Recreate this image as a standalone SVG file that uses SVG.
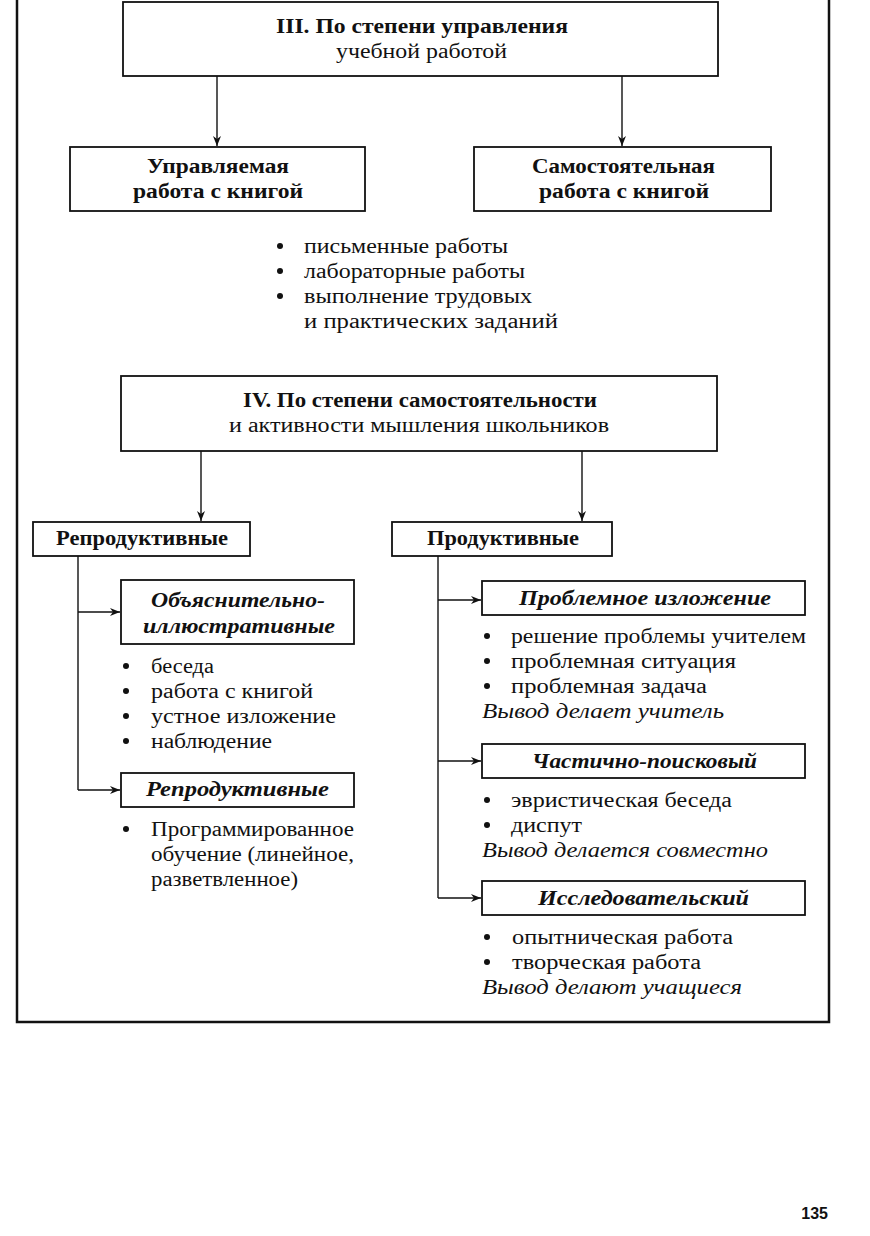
<svg xmlns="http://www.w3.org/2000/svg" width="870" height="1236" viewBox="0 0 870 1236">
<defs>
<marker id="ah" markerWidth="10" markerHeight="8" refX="10" refY="4" orient="auto" markerUnits="userSpaceOnUse">
<path d="M0,0 L10,4 L0,8 L3,4 Z" fill="#111"/>
</marker>
<style>
.box{fill:#fff;stroke:#111;stroke-width:1.8}
.t{font-family:"Liberation Serif","Times New Roman",serif;font-size:20px;fill:#111}
.b{font-weight:bold}
.i{font-style:italic;font-weight:bold}
.it{font-style:italic}
.d{fill:#111}
.ln{stroke:#111;stroke-width:1.4;fill:none}
</style>
</defs>
<rect width="870" height="1236" fill="#fff"/>
<g id="frame">
<path d="M17,0 V1022 H829 V0" fill="none" stroke="#111" stroke-width="2.5"/>
</g>
<g id="connectors">
<line class="ln" x1="217" y1="76" x2="217" y2="146" marker-end="url(#ah)"/>
<line class="ln" x1="622" y1="76" x2="622" y2="146" marker-end="url(#ah)"/>
<line class="ln" x1="201" y1="451" x2="201" y2="521" marker-end="url(#ah)"/>
<line class="ln" x1="582" y1="451" x2="582" y2="521" marker-end="url(#ah)"/>
<path class="ln" d="M78,556 V790"/>
<line class="ln" x1="78" y1="612" x2="120" y2="612" marker-end="url(#ah)"/>
<line class="ln" x1="78" y1="790" x2="120" y2="790" marker-end="url(#ah)"/>
<path class="ln" d="M438,556 V898"/>
<line class="ln" x1="438" y1="600" x2="481" y2="600" marker-end="url(#ah)"/>
<line class="ln" x1="438" y1="761" x2="481" y2="761" marker-end="url(#ah)"/>
<line class="ln" x1="438" y1="898" x2="481" y2="898" marker-end="url(#ah)"/>
</g>
<g id="n3">
<rect class="box" x="123" y="2" width="595" height="74"/>
<text class="t b" x="276" y="33" textLength="292" lengthAdjust="spacingAndGlyphs">III. По степени управления</text>
<text class="t" x="336" y="58" textLength="171" lengthAdjust="spacingAndGlyphs">учебной работой</text>
</g>
<g id="n_upr">
<rect class="box" x="70" y="147" width="295" height="64"/>
<text class="t b" x="147" y="173" textLength="142" lengthAdjust="spacingAndGlyphs">Управляемая</text>
<text class="t b" x="133" y="198" textLength="170" lengthAdjust="spacingAndGlyphs">работа с книгой</text>
</g>
<g id="n_sam">
<rect class="box" x="474" y="147" width="297" height="64"/>
<text class="t b" x="532" y="173" textLength="183" lengthAdjust="spacingAndGlyphs">Самостоятельная</text>
<text class="t b" x="539" y="198" textLength="170" lengthAdjust="spacingAndGlyphs">работа с книгой</text>
</g>
<g id="list1">
<circle class="d" cx="280" cy="246" r="3"/><text class="t" x="304" y="253" textLength="204" lengthAdjust="spacingAndGlyphs">письменные работы</text>
<circle class="d" cx="280" cy="271" r="3"/><text class="t" x="304" y="278" textLength="221" lengthAdjust="spacingAndGlyphs">лабораторные работы</text>
<circle class="d" cx="280" cy="296" r="3"/><text class="t" x="304" y="303" textLength="228" lengthAdjust="spacingAndGlyphs">выполнение трудовых</text>
<text class="t" x="304" y="328" textLength="254" lengthAdjust="spacingAndGlyphs">и практических заданий</text>
</g>
<g id="n4">
<rect class="box" x="121" y="376" width="596" height="75"/>
<text class="t b" x="243" y="407" textLength="354" lengthAdjust="spacingAndGlyphs">IV. По степени самостоятельности</text>
<text class="t" x="229" y="432" textLength="380" lengthAdjust="spacingAndGlyphs">и активности мышления школьников</text>
</g>
<g id="n_repr">
<rect class="box" x="33" y="522" width="217" height="34"/>
<text class="t b" x="56" y="545" textLength="172" lengthAdjust="spacingAndGlyphs">Репродуктивные</text>
</g>
<g id="n_prod">
<rect class="box" x="392" y="522" width="220" height="34"/>
<text class="t b" x="427" y="545" textLength="152" lengthAdjust="spacingAndGlyphs">Продуктивные</text>
</g>
<g id="n_obj">
<rect class="box" x="121" y="580" width="233" height="64"/>
<text class="t i" x="151" y="607" textLength="174" lengthAdjust="spacingAndGlyphs">Объяснительно-</text>
<text class="t i" x="143" y="633" textLength="192" lengthAdjust="spacingAndGlyphs">иллюстративные</text>
</g>
<g id="list2">
<circle class="d" cx="126" cy="666" r="3"/><text class="t" x="151" y="673" textLength="63" lengthAdjust="spacingAndGlyphs">беседа</text>
<circle class="d" cx="126" cy="691" r="3"/><text class="t" x="151" y="698" textLength="162" lengthAdjust="spacingAndGlyphs">работа с книгой</text>
<circle class="d" cx="126" cy="716" r="3"/><text class="t" x="151" y="723" textLength="185" lengthAdjust="spacingAndGlyphs">устное изложение</text>
<circle class="d" cx="126" cy="741" r="3"/><text class="t" x="151" y="748" textLength="121" lengthAdjust="spacingAndGlyphs">наблюдение</text>
</g>
<g id="n_repr2">
<rect class="box" x="121" y="773" width="233" height="34"/>
<text class="t i" x="146" y="796" textLength="183" lengthAdjust="spacingAndGlyphs">Репродуктивные</text>
</g>
<g id="list3">
<circle class="d" cx="126" cy="829" r="3"/><text class="t" x="151" y="836" textLength="203" lengthAdjust="spacingAndGlyphs">Программированное</text>
<text class="t" x="151" y="861" textLength="203" lengthAdjust="spacingAndGlyphs">обучение (линейное,</text>
<text class="t" x="151" y="886" textLength="147" lengthAdjust="spacingAndGlyphs">разветвленное)</text>
</g>
<g id="n_probl">
<rect class="box" x="482" y="581" width="323" height="34"/>
<text class="t i" x="519" y="605" textLength="252" lengthAdjust="spacingAndGlyphs">Проблемное изложение</text>
</g>
<g id="list4">
<circle class="d" cx="487" cy="636" r="3"/><text class="t" x="511" y="643" textLength="295" lengthAdjust="spacingAndGlyphs">решение проблемы учителем</text>
<circle class="d" cx="487" cy="661" r="3"/><text class="t" x="511" y="668" textLength="225" lengthAdjust="spacingAndGlyphs">проблемная ситуация</text>
<circle class="d" cx="487" cy="686" r="3"/><text class="t" x="511" y="693" textLength="196" lengthAdjust="spacingAndGlyphs">проблемная задача</text>
<text class="t it" x="482" y="718" textLength="242" lengthAdjust="spacingAndGlyphs">Вывод делает учитель</text>
</g>
<g id="n_chast">
<rect class="box" x="482" y="744" width="323" height="34"/>
<text class="t i" x="532" y="768" textLength="225" lengthAdjust="spacingAndGlyphs">Частично-поисковый</text>
</g>
<g id="list5">
<circle class="d" cx="487" cy="800" r="3"/><text class="t" x="511" y="807" textLength="221" lengthAdjust="spacingAndGlyphs">эвристическая беседа</text>
<circle class="d" cx="487" cy="825" r="3"/><text class="t" x="511" y="832" textLength="71" lengthAdjust="spacingAndGlyphs">диспут</text>
<text class="t it" x="482" y="857" textLength="286" lengthAdjust="spacingAndGlyphs">Вывод делается совместно</text>
</g>
<g id="n_issl">
<rect class="box" x="482" y="881" width="323" height="34"/>
<text class="t i" x="538" y="905" textLength="211" lengthAdjust="spacingAndGlyphs">Исследовательский</text>
</g>
<g id="list6">
<circle class="d" cx="487" cy="937" r="3"/><text class="t" x="512" y="944" textLength="221" lengthAdjust="spacingAndGlyphs">опытническая работа</text>
<circle class="d" cx="487" cy="962" r="3"/><text class="t" x="512" y="969" textLength="189" lengthAdjust="spacingAndGlyphs">творческая работа</text>
<text class="t it" x="482" y="994" textLength="260" lengthAdjust="spacingAndGlyphs">Вывод делают учащиеся</text>
</g>
<g id="page">
<text x="828" y="1219" text-anchor="end" style="font-family:'Liberation Sans',Arial,sans-serif;font-size:16px;font-weight:bold;fill:#111">135</text>
</g>
</svg>
